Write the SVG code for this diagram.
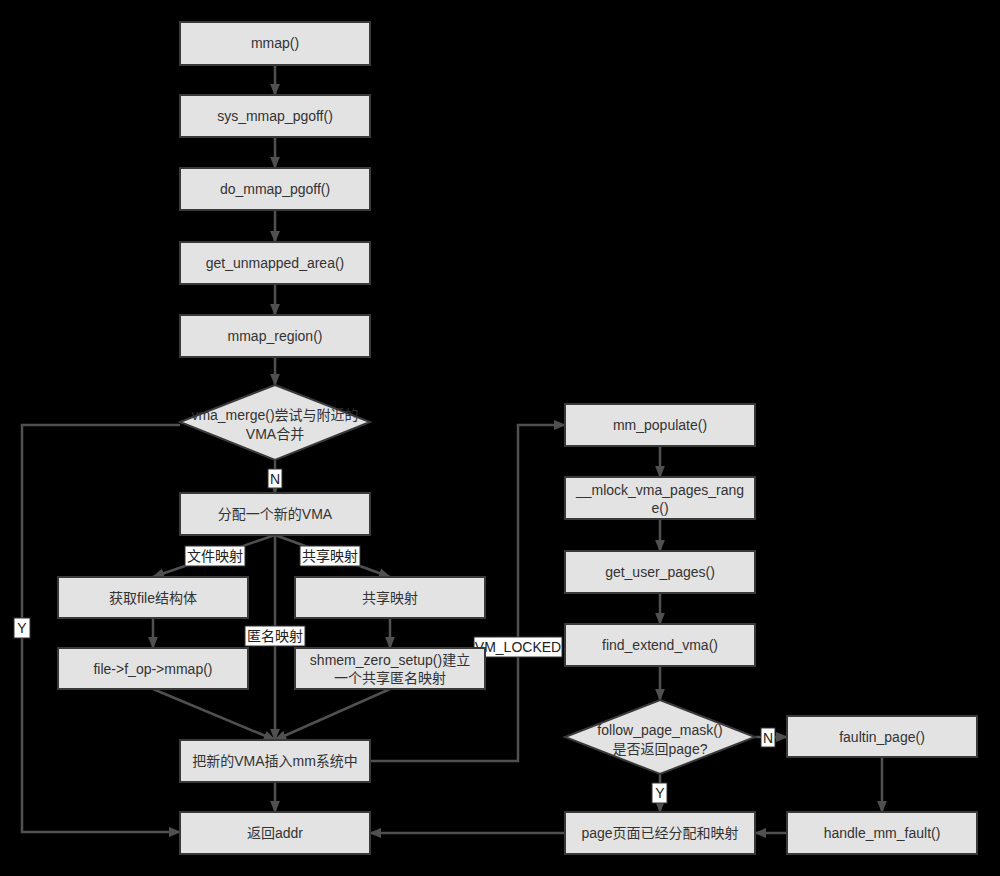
<svg xmlns="http://www.w3.org/2000/svg" width="1000" height="876" viewBox="0 0 1000 876">
<style>
.n{fill:#e3e3e3;stroke:#3a3a3a;stroke-width:2}
.t{font-family:"Liberation Sans","Noto Sans CJK SC",sans-serif;font-size:14px;fill:#333;text-anchor:middle}
.c{fill:none;stroke:#505050;stroke-width:2.5;marker-end:url(#a)}
.l{fill:#fff;stroke:#333;stroke-width:1}
.lt{font-family:"Liberation Sans","Noto Sans CJK SC",sans-serif;font-size:14px;fill:#222;text-anchor:middle}
</style>
<defs><marker id="a" viewBox="0 0 10 10" refX="9" refY="5" markerWidth="5" markerHeight="5" orient="auto"><path d="M0,1 L10,5 L0,9 z" fill="#505050"/></marker></defs>
<rect width="1000" height="876" fill="#000"/>
<g id="connectors">
<path class="c" d="M275,65 V95"/>
<path class="c" d="M275,137 V168"/>
<path class="c" d="M275,210 V242"/>
<path class="c" d="M275,284 V315"/>
<path class="c" d="M275,357 V385"/>
<path class="c" d="M275,460 V493"/>
<path class="c" d="M275,535 L153,577"/>
<path class="c" d="M275,535 L390,577"/>
<path class="c" d="M275,535 V740"/>
<path class="c" d="M153,618 V648"/>
<path class="c" d="M390,618 V648"/>
<path class="c" d="M153,689 L275,740"/>
<path class="c" d="M390,689 L275,740"/>
<path class="c" d="M275,782 V812"/>
<path class="c" d="M180,425 H22 V832 H180"/>
<path class="c" d="M370,761 H518 V425 H565"/>
<path class="c" d="M660,446 V477"/>
<path class="c" d="M660,519 V551"/>
<path class="c" d="M660,593 V624"/>
<path class="c" d="M660,666 V700"/>
<path class="c" d="M755,737 H787"/>
<path class="c" d="M660,774 V812"/>
<path class="c" d="M882,757 V812"/>
<path class="c" d="M787,833 H755"/>
<path class="c" d="M565,833 H370"/>
<rect class="l" x="268" y="469" width="14" height="19"/><text class="lt" x="275" y="484">N</text>
<rect class="l" x="185" y="546" width="60" height="20"/><text class="lt" x="215" y="561">文件映射</text>
<rect class="l" x="300" y="546" width="60" height="20"/><text class="lt" x="330" y="561">共享映射</text>
<rect class="l" x="245" y="626" width="60" height="20"/><text class="lt" x="275" y="641">匿名映射</text>
<rect class="l" x="14" y="618" width="16" height="20"/><text class="lt" x="22" y="633">Y</text>
<rect class="l" x="474" y="637" width="88" height="20"/><text class="lt" x="518" y="652">VM_LOCKED</text>
<rect class="l" x="761" y="728" width="14" height="19"/><text class="lt" x="768" y="743">N</text>
<rect class="l" x="652" y="783" width="15" height="20"/><text class="lt" x="660" y="798">Y</text>
</g>
<g id="mmap"><rect class="n" x="180" y="22" width="190" height="43"/><text class="t" x="275" y="48">mmap()</text></g>
<g id="sys"><rect class="n" x="180" y="95" width="190" height="42"/><text class="t" x="275" y="121">sys_mmap_pgoff()</text></g>
<g id="do"><rect class="n" x="180" y="168" width="190" height="42"/><text class="t" x="275" y="194">do_mmap_pgoff()</text></g>
<g id="gua"><rect class="n" x="180" y="242" width="190" height="42"/><text class="t" x="275" y="268">get_unmapped_area()</text></g>
<g id="region"><rect class="n" x="180" y="315" width="190" height="42"/><text class="t" x="275" y="341">mmap_region()</text></g>
<g id="merge"><polygon class="n" points="275,385 370,422 275,460 180,422"/><text class="t" x="275" y="420">vma_merge()尝试与附近的</text><text class="t" x="275" y="439">VMA合并</text></g>
<g id="alloc"><rect class="n" x="180" y="493" width="190" height="42"/><text class="t" x="275" y="519">分配一个新的VMA</text></g>
<g id="getfile"><rect class="n" x="58" y="577" width="190" height="41"/><text class="t" x="153" y="603">获取file结构体</text></g>
<g id="share"><rect class="n" x="295" y="577" width="190" height="41"/><text class="t" x="390" y="603">共享映射</text></g>
<g id="fop"><rect class="n" x="58" y="648" width="190" height="41"/><text class="t" x="153" y="674">file-&gt;f_op-&gt;mmap()</text></g>
<g id="shmem"><rect class="n" x="295" y="648" width="190" height="41"/><text class="t" x="390" y="665">shmem_zero_setup()建立</text><text class="t" x="390" y="683">一个共享匿名映射</text></g>
<g id="insert"><rect class="n" x="180" y="740" width="190" height="42"/><text class="t" x="275" y="766">把新的VMA插入mm系统中</text></g>
<g id="ret"><rect class="n" x="180" y="812" width="190" height="42"/><text class="t" x="275" y="838">返回addr</text></g>
<g id="populate"><rect class="n" x="565" y="404" width="190" height="42"/><text class="t" x="660" y="430">mm_populate()</text></g>
<g id="mlock"><rect class="n" x="565" y="477" width="190" height="42"/><text class="t" x="660" y="495">__mlock_vma_pages_rang</text><text class="t" x="660" y="513">e()</text></g>
<g id="gup"><rect class="n" x="565" y="551" width="190" height="42"/><text class="t" x="660" y="577">get_user_pages()</text></g>
<g id="fev"><rect class="n" x="565" y="624" width="190" height="42"/><text class="t" x="660" y="650">find_extend_vma()</text></g>
<g id="fpm"><polygon class="n" points="660,700 755,737 660,774 565,737"/><text class="t" x="660" y="735">follow_page_mask()</text><text class="t" x="660" y="754">是否返回page?</text></g>
<g id="faultin"><rect class="n" x="787" y="716" width="190" height="41"/><text class="t" x="882" y="742">faultin_page()</text></g>
<g id="pagedone"><rect class="n" x="565" y="812" width="190" height="42"/><text class="t" x="660" y="838">page页面已经分配和映射</text></g>
<g id="hmf"><rect class="n" x="787" y="812" width="190" height="42"/><text class="t" x="882" y="838">handle_mm_fault()</text></g>
</svg>
